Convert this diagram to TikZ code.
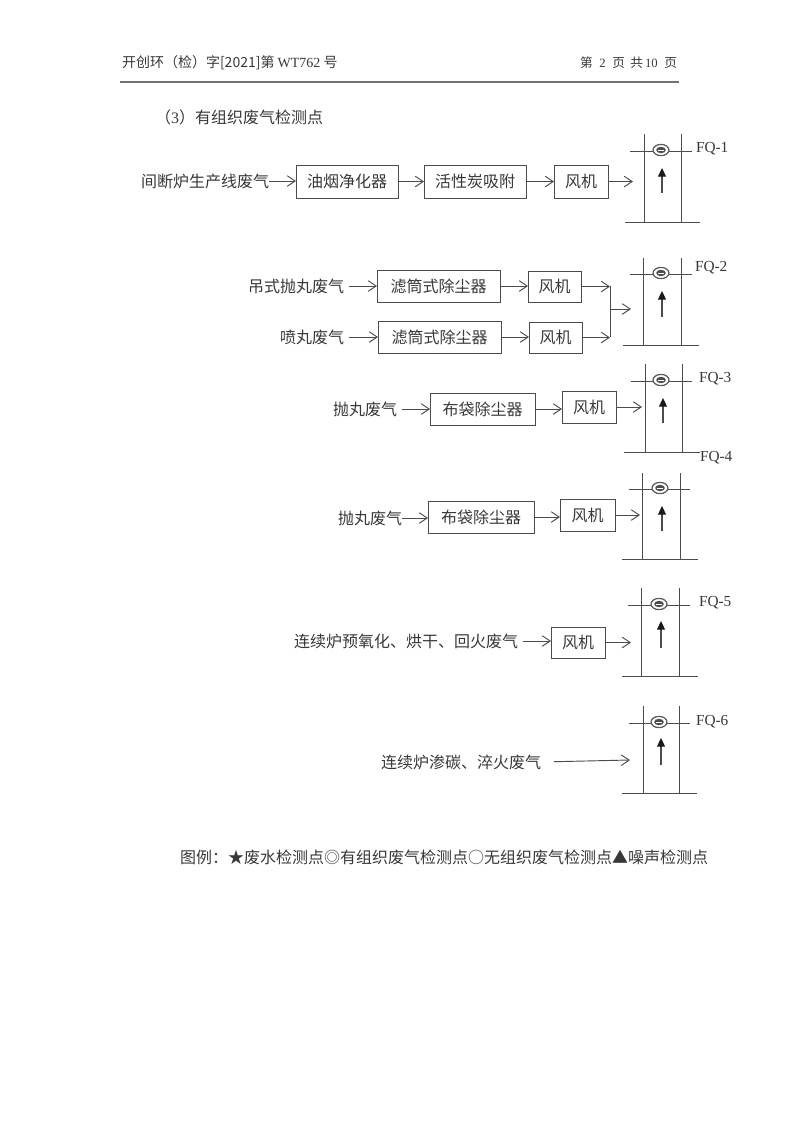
\documentclass[tikz,border=0pt]{standalone}
\usepackage{fontspec}
\setmainfont{Liberation Serif}
\newfontfamily\cjk{Noto Sans CJK SC}
\usetikzlibrary{arrows.meta}
\definecolor{ink}{gray}{0.22}
\definecolor{linec}{gray}{0.30}
\tikzset{
  box/.style={draw=linec,line width=0.75pt,inner sep=0pt,outer sep=0pt,text=ink,font=\fontsize{12}{14}\selectfont\cjk},
  lab/.style={inner sep=0pt,outer sep=0pt,text=ink,font=\fontsize{12}{14}\selectfont\cjk},
  small/.style={inner sep=0pt,outer sep=0pt,text=ink,font=\fontsize{10.5}{13}\selectfont\cjk},
  fq/.style={inner sep=0pt,outer sep=0pt,text=ink,anchor=west,font=\fontsize{11.5}{14}\selectfont},
  conn/.style={draw=linec,line width=0.7pt,-{Straight Barb[length=6pt,width=8pt,line width=0.7pt]}},
  wire/.style={draw=linec,line width=0.7pt},
  duct/.style={draw=black!70,line width=0.75pt},
  uparrow/.style={draw=black!70,line width=0.8pt,-{Triangle[length=6.5pt,width=6pt,color=black!90]}},
  ringmark/.style={draw=black!65,line width=0.9pt,fill=white}
}
\newcommand{\bx}[6]{\node[box,minimum width={(#3-#2)*0.75pt},minimum height={(#5-#4)*0.75pt}] (#1) at ({(#2+#3)/2},{(#4+#5)/2}) {#6};}
\begin{document}
\begin{tikzpicture}[x=0.75pt,y=-0.75pt]
\useasboundingbox (0,0) rectangle (794,1122);
% header
\node[small,anchor=west] (hl) at (122,63) {开创环（检）字[2021]第 {\rmfamily WT762} 号};
\node[small,anchor=east,font=\fontsize{9.5}{12}\selectfont\cjk] (hr) at (677,63) {第\hspace{5pt}{\rmfamily 2}\hspace{5pt}页\hspace{4pt}共\hspace{1.5pt}{\rmfamily 10}\hspace{5pt}页};
\coordinate (rl) at (120,82); \coordinate (rr) at (679,82);
\draw[draw=black!55,line width=0.8pt] (rl) -- (rr);
\node[lab,anchor=west] (title) at (155,117) {（{\rmfamily 3}）有组织废气检测点};
% stacks: name / left x / right x / top / bottom / tap y / tap x1 / tap x2 / base x1 / base x2 / ring x / ring y / arrow x / arrow y1 / arrow y2
\foreach \n/\xl/\xr/\yt/\yb/\hy/\hl/\hr/\bl/\br/\cx/\cy/\ax/\ayb/\ayt in {
  1/644/681/134/222/151/630/692/625/700/661/150/662/193/168,
  2/643/681/258/345/274/630/692/623/699/661/273/662/317/291,
  3/645/682/364/452/381/631/692/624/700/661/380/663/423/398,
  4/642/680/473/559/489/629/690/622/698/660/488/662/531/506,
  5/641/679/588/676/605/628/690/622/698/659/604/661/648/621,
  6/643/679/706/793/723/629/690/622/697/659/722/661/765/738}{
  \coordinate (L\n t) at (\xl,\yt); \coordinate (L\n b) at (\xl,\yb);
  \coordinate (R\n t) at (\xr,\yt); \coordinate (R\n b) at (\xr,\yb);
  \coordinate (H\n l) at (\hl,\hy); \coordinate (H\n r) at (\hr,\hy);
  \coordinate (B\n l) at (\bl,\yb); \coordinate (B\n r) at (\br,\yb);
  \coordinate (A\n b) at (\ax,\ayb); \coordinate (A\n t) at (\ax,\ayt);
  \draw[duct] (L\n t) -- (L\n b);
  \draw[duct] (R\n t) -- (R\n b);
  \draw[duct] (H\n l) -- (H\n r);
  \draw[duct] (B\n l) -- (B\n r);
  \draw[ringmark] (\cx,\cy) ellipse [x radius=6pt,y radius=4.2pt];
  \fill[black!70] (\cx,\cy) ellipse [x radius=3.6pt,y radius=2.4pt];
  \draw[white,line width=0.5pt] (\cx-3,\cy) -- (\cx+3,\cy);
  \draw[uparrow] (A\n b) -- (A\n t);
}
\node[fq] (fq1) at (696,149) {FQ-1};
\node[fq] (fq2) at (695,268) {FQ-2};
\node[fq] (fq3) at (699,379) {FQ-3};
\node[fq] (fq4) at (700,458) {FQ-4};
\node[fq] (fq5) at (699,603) {FQ-5};
\node[fq] (fq6) at (696,722) {FQ-6};
% row 1
\node[lab,anchor=west] (t1) at (141,181) {间断炉生产线废气};
\bx{a1}{296}{398}{165}{198}{油烟净化器}
\bx{a2}{424}{526}{165}{198}{活性炭吸附}
\bx{a3}{554}{608}{165}{198}{风机}
\coordinate (in1) at (633,181.5);
\draw[conn] (t1.east) -- (t1.east -| a1.west);
\draw[conn] (a1.east) -- (a2.west);
\draw[conn] (a2.east) -- (a3.west);
\draw[conn] (a3.east) -- (a3.east -| in1);
% row 2
\node[lab,anchor=east] (t2) at (344,286) {吊式抛丸废气};
\node[lab,anchor=east] (t3) at (344,337) {喷丸废气};
\bx{b1}{377}{500}{270}{302}{滤筒式除尘器}
\bx{b2}{528}{581}{271}{302}{风机}
\bx{c1}{378}{501}{321}{353}{滤筒式除尘器}
\bx{c2}{529}{582}{322}{353}{风机}
\coordinate (j1) at (610,286); \coordinate (j2) at (610,337);
\coordinate (jm) at (610,309); \coordinate (in2) at (631,309);
\draw[conn,shorten <=5*0.75pt] (t2.east) -- (t2.east -| b1.west);
\draw[conn,shorten <=5*0.75pt] (t3.east) -- (t3.east -| c1.west);
\draw[conn] (b1.east) -- (b1.east -| b2.west);
\draw[conn] (c1.east) -- (c1.east -| c2.west);
\draw[conn] (b2.east) -- (b2.east -| j1);
\draw[conn] (c2.east) -- (c2.east -| j2);
\draw[wire] (j1) -- (j2);
\draw[conn] (jm) -- (in2);
% row 3
\node[lab,anchor=east] (t4) at (397,409) {抛丸废气};
\bx{d1}{430}{535}{393}{425}{布袋除尘器}
\bx{d2}{562}{616}{391}{423}{风机}
\coordinate (in3) at (642,406);
\draw[conn,shorten <=5*0.75pt] (t4.east) -- (t4.east -| d1.west);
\draw[conn] (d1.east) -- (d1.east -| d2.west);
\draw[conn] (d2.east) -- (d2.east -| in3);
% row 4
\node[lab,anchor=east] (t5) at (402,518) {抛丸废气};
\bx{e1}{428}{534}{501}{533}{布袋除尘器}
\bx{e2}{560}{615}{499}{531}{风机}
\coordinate (in4) at (640,513);
\draw[conn] (t5.east) -- (t5.east -| e1.west);
\draw[conn] (e1.east) -- (e1.east -| e2.west);
\draw[conn] (e2.east) -- (e2.east -| in4);
% row 5
\node[lab,anchor=east] (t6) at (518,641) {连续炉预氧化、烘干、回火废气};
\bx{f1}{551}{605}{627}{658}{风机}
\coordinate (in5) at (631,642);
\draw[conn,shorten <=5*0.75pt] (t6.east) -- (t6.east -| f1.west);
\draw[conn] (f1.east) -- (f1.east -| in5);
% row 6
\node[lab,anchor=east] (t7) at (541,762) {连续炉渗碳、淬火废气};
\coordinate (in6) at (630,760);
\draw[conn,shorten <=13*0.75pt] (t7.east) -- (in6);
% legend
\node[lab,anchor=west] (legend) at (180,857) {图例：★废水检测点◎有组织废气检测点○无组织废气检测点▲噪声检测点};
\end{tikzpicture}
\end{document}
